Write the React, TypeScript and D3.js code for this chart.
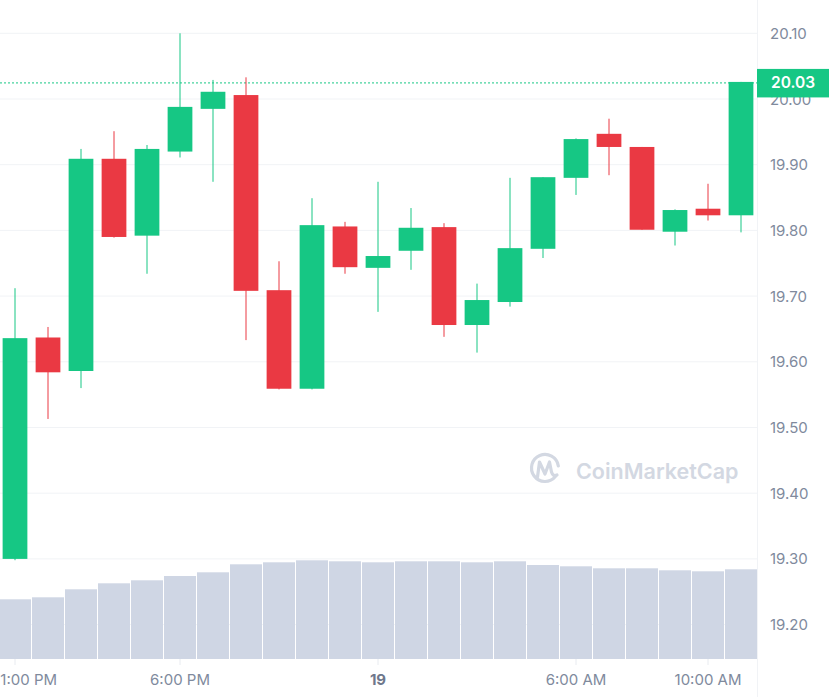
import React from "react";
import * as d3 from "d3";

const W = 829;
const H = 697;

// hourly candles from 1:00 PM (18th) to 11:00 AM (19th)
const hours = [13, 14, 15, 16, 17, 18, 19, 20, 21, 22, 23, 0, 1, 2, 3, 4, 5, 6, 7, 8, 9, 10, 11];
const opens = [19.300, 19.637, 19.586, 19.909, 19.792, 19.920, 19.985, 20.006, 19.709, 19.559, 19.806, 19.743, 19.769, 19.805, 19.656, 19.691, 19.772, 19.880, 19.947, 19.927, 19.798, 19.833, 19.823];
const highs = [19.712, 19.653, 19.924, 19.951, 19.930, 20.100, 20.029, 20.033, 19.753, 19.849, 19.813, 19.874, 19.834, 19.811, 19.719, 19.880, 19.881, 19.940, 19.970, 19.927, 19.832, 19.871, 20.026];
const lows = [19.298, 19.513, 19.560, 19.789, 19.734, 19.911, 19.874, 19.633, 19.558, 19.558, 19.734, 19.676, 19.740, 19.638, 19.614, 19.684, 19.758, 19.854, 19.884, 19.801, 19.777, 19.815, 19.797];
const closes = [19.636, 19.584, 19.909, 19.790, 19.924, 19.988, 20.011, 19.708, 19.559, 19.808, 19.744, 19.761, 19.804, 19.656, 19.694, 19.773, 19.881, 19.939, 19.927, 19.801, 19.831, 19.823, 20.026];
const volumes = [597, 617, 697, 757, 787, 830, 867, 947, 967, 987, 977, 967, 977, 977, 967, 977, 940, 927, 907, 907, 887, 877, 897];

const priceTicks = [19.2, 19.3, 19.4, 19.5, 19.6, 19.7, 19.8, 19.9, 20.0, 20.1];
const timeTickIndex = [0, 5, 11, 17, 21];
const timeTickLabels = ["1:00 PM", "6:00 PM", "19", "6:00 AM", "10:00 AM"];

const GREEN = "#16c784";
const RED = "#ea3943";
const GRID = "#f1f3f6";
const LABEL = "#808a9d";
const FONT = "Inter, 'Noto Sans', sans-serif";

export default function App() {
  const plotRight = 757;
  const x = d3
    .scaleBand<number>()
    .domain(d3.range(hours.length))
    .range([-1.5, 757.5])
    .paddingInner(0);
  const bw = x.bandwidth();
  const bodyW = bw * 0.75;
  const y = d3.scaleLinear().domain([19.2, 20.1]).range([624.6, 33.3]);
  const yVol = d3.scaleLinear().domain([0, 1000]).range([659, 559]);

  const last = closes[closes.length - 1];
  const lastY = y(last);

  return (
    <div style={{ position: "absolute", left: 0, top: 0 }}>
      <svg width={W} height={H} style={{ display: "block", background: "#fff" }} fontFamily={FONT}>
        {/* gridlines */}
        {priceTicks.map((t) => (
          <line key={"g" + t} x1={0} x2={plotRight} y1={y(t)} y2={y(t)} stroke={GRID} strokeWidth={1} />
        ))}
        {/* separator */}
        <line x1={plotRight + 0.5} x2={plotRight + 0.5} y1={0} y2={H} stroke="#f1f3f6" strokeWidth={1} />

        {/* watermark */}
        <g fill="none" stroke="#d3d8e2" strokeWidth={3.2} strokeLinecap="round" strokeLinejoin="round">
          <path d={d3.arc()({ innerRadius: 13.5, outerRadius: 13.5, startAngle: Math.PI * 0.72, endAngle: Math.PI * 2.45 }) || ""} transform="translate(545,468)" />
          <path d="M537.5,477 L539.5,462 L545,474 L549.5,462 L551.5,472 Q553,477 557,475" />
        </g>
        <text x={576} y={479} fontSize={21.5} fontWeight={600} fill="#d3d8e2">
          CoinMarketCap
        </text>

        {/* volume */}
        {volumes.map((v, i) => (
          <rect
            key={"v" + i}
            x={(x(i) as number) + 0.5}
            width={bw - 1}
            y={yVol(v)}
            height={yVol(0) - yVol(v)}
            fill="#cfd6e4"
          />
        ))}

        {/* current price line */}
        <line x1={0} x2={plotRight} y1={lastY + 1} y2={lastY + 1} stroke={GREEN} strokeWidth={1} strokeDasharray="2,2" />

        {/* candles */}
        {hours.map((_, i) => {
          const cx = (x(i) as number) + bw / 2;
          const up = closes[i] >= opens[i];
          const col = up ? GREEN : RED;
          const top = y(Math.max(opens[i], closes[i]));
          const bot = y(Math.min(opens[i], closes[i]));
          return (
            <g key={"c" + i}>
              <line x1={cx} x2={cx} y1={y(highs[i])} y2={y(lows[i])} stroke={col} strokeWidth={1} />
              <rect x={cx - bodyW / 2} width={bodyW} y={top} height={Math.max(1, bot - top)} fill={col} />
            </g>
          );
        })}

        {/* y axis labels */}
        {priceTicks.map((t) => (
          <text key={"yl" + t} x={770} y={y(t) + 5.5} fontSize={15} fill={LABEL}>
            {t.toFixed(2)}
          </text>
        ))}

        {/* current price tag */}
        <rect x={plotRight} y={lastY - 13} width={W - plotRight} height={28.5} fill={GREEN} />
        <text x={771} y={lastY + 6.5} fontSize={15.5} fontWeight={600} fill="#fff">
          {last.toFixed(2)}
        </text>

        {/* x ticks */}
        {timeTickIndex.map((idx, k) => {
          const cx = (x(idx) as number) + bw / 2;
          const lbl = timeTickLabels[k];
          const half = lbl.length * 4.1;
          const tx = Math.max(cx, half);
          return (
            <g key={"xt" + k}>
              <line x1={cx} x2={cx} y1={659} y2={665} stroke="#e8ebf0" strokeWidth={1} />
              <text
                x={tx}
                y={685}
                fontSize={15}
                textAnchor="middle"
                fill={lbl === "19" ? "#6f788c" : LABEL}
                fontWeight={lbl === "19" ? 700 : 400}
              >
                {lbl}
              </text>
            </g>
          );
        })}
      </svg>
    </div>
  );
}
